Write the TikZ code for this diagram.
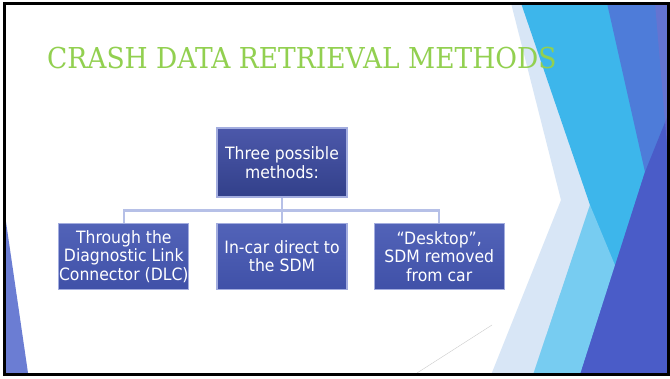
\documentclass[tikz,border=0pt]{standalone}
\usepackage{fontspec}
\usetikzlibrary{positioning}
\newfontfamily\boxfont[FakeStretch=0.92]{DejaVu Sans}
\newfontfamily\titlefont[FakeStretch=0.92]{DejaVu Serif}
\definecolor{titlegreen}{HTML}{92D050}
\definecolor{boxedge}{HTML}{A3ADDF}
\definecolor{linkblue}{HTML}{B6C0E7}
\definecolor{facetpale}{HTML}{D8E6F6}
\definecolor{facetcyan}{HTML}{3DB6EB}
\definecolor{facetmid}{HTML}{4E7CD9}
\definecolor{facetdark}{HTML}{4A5CC8}
\definecolor{facetpurple}{HTML}{7470CC}
\definecolor{sliver}{HTML}{6B7DD3}

\begin{document}
\begin{tikzpicture}[x=1pt,y=-1pt]
		\tikzset{Root/.style = {rectangle, draw=boxedge, line width=1.2pt, top color={rgb,255:red,76;green,88;blue,170}, bottom color={rgb,255:red,50;green,64;blue,138}, text=white, align=center, font={\boxfont\fontsize{17pt}{18.5pt}\selectfont}, minimum width=130pt, minimum height=69pt, inner sep=0pt}}
		\tikzset{Method/.style = {Root, top color={rgb,255:red,82;green,99;blue,184}, bottom color={rgb,255:red,64;green,81;blue,168}, minimum height=66pt}}
		\tikzset{Link/.style = {draw=linkblue, line width=2.5pt}}
		\useasboundingbox (0,0) rectangle (670,378);
		\fill[white] (0,0) rectangle (670,378);
		% facets on the right
		\fill[facetpale] (511,3) -- (561,200) -- (491,375) -- (670,375) -- (670,3) -- cycle;
		\fill[facetcyan] (521,3) -- (590,205) -- (533,375) -- (670,375) -- (670,3) -- cycle;
		\fill[white, opacity=0.3] (590,205) -- (533,375) -- (585,375) -- (617,270) -- cycle;
		\fill[facetmid] (607,3) -- (645,172) -- (580,375) -- (670,375) -- (670,3) -- cycle;
		\fill[facetdark] (645,172) -- (670,110) -- (670,375) -- (580,375) -- cycle;
		\fill[facetpurple, opacity=0.6] (655,3) -- (670,3) -- (670,180) -- cycle;
		\fill[sliver] (5,215) -- (28,373) -- (5,373) -- cycle;
		\draw[black!20, line width=0.4pt] (417,373) -- (492,325);
		\draw[black, line width=3pt] (4.5,3.5) rectangle (668,374);
		% title and chart
		\node[anchor=base west, inner sep=0pt, text=titlegreen, font={\titlefont\fontsize{28.8pt}{32pt}\selectfont}] (Title) at (47,68) {CRASH DATA RETRIEVAL METHODS};
		\node[Root]    (Root) at (282,162.5)      {Three possible\\methods:};
		\node[Method]  (Car)  [below = 25pt of Root] {In-car direct to\\the SDM};
		\node[Method]  (DLC)  [left = 27pt of Car]   {Through the\\Diagnostic Link\\Connector (DLC)};
		\node[Method]  (Desk) [right = 26pt of Car]  {“Desktop”,\\SDM removed\\from car};
		\draw [Link] (Root.south) -- ++(0,13) -| (DLC.north);
		\draw [Link] (Root.south) -- (Car.north);
		\draw [Link] (Root.south) -- ++(0,13) -| (Desk.north);
	\end{tikzpicture}
\end{document}
